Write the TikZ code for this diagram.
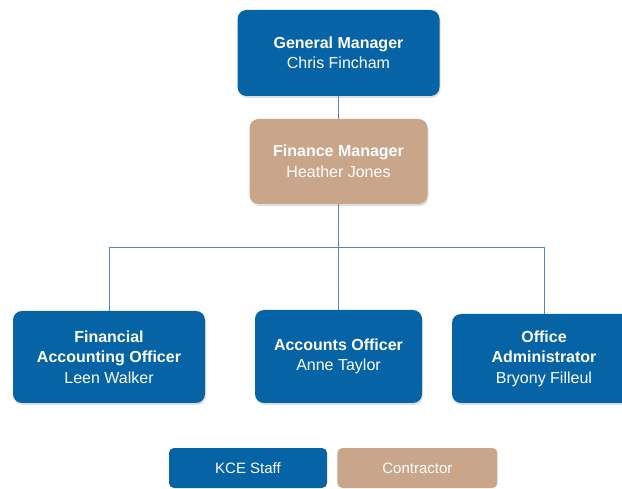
\documentclass[tikz,border=0pt]{standalone}
\usepackage{fontspec}
\setmainfont{Liberation Sans}
\usetikzlibrary{positioning,shadows}
\definecolor{kceblue}{RGB}{5,99,166}
\definecolor{contract}{RGB}{201,166,138}
\definecolor{linkblue}{RGB}{88,132,190}

\begin{document}
\begin{tikzpicture}[
                x=1pt,y=-1pt,
                box/.style n args={3}{draw=none,fill=#1,rounded corners=9pt,minimum width=#2,minimum height=#3,align=center,text=white,font=\fontsize{16}{20.5}\selectfont,drop shadow={opacity=0.25,shadow xshift=1pt,shadow yshift=-2pt}},
                key/.style n args={2}{draw=none,fill=#1,rounded corners=5pt,minimum width=#2,minimum height=40pt,align=center,text=white,font=\fontsize{15}{17}\selectfont},
                link/.style={draw=linkblue,line width=0.9pt}
            ]
                \clip (0,0) rectangle (622,489);
                \node (gm) [box={kceblue}{202pt}{86pt}] at (338.5,53) {\textbf{General Manager}\\Chris Fincham};
                \node (fm) [box={contract}{178pt}{85pt}] at (338.5,161.5) {\textbf{Finance Manager}\\Heather Jones};
                \node (fao) [box={kceblue}{192pt}{92pt}] at (109,357) {\textbf{Financial}\\\textbf{Accounting Officer}\\Leen Walker};
                \node (ao) [box={kceblue}{167pt}{93pt}] at (338.5,356.5) {\textbf{Accounts Officer}\\Anne Taylor};
                \node (oa) [box={kceblue}{184pt}{89pt}] at (544,358.5) {\textbf{Office}\\\textbf{Administrator}\\Bryony Filleul};
                \coordinate (bus) at (338.5,247);
                \draw[link] (gm) -- (fm);
                \draw[link] (fm) -- (bus);
                \draw[link] (bus) -| (fao);
                \draw[link] (bus) -- (ao);
                \draw[link] (bus) -| (oa);
                % legend
                \node (staff) [key={kceblue}{158pt}] at (248,468) {KCE Staff};
                \node (contr) [key={contract}{160pt},right=10pt of staff] {Contractor};
            \end{tikzpicture}
\end{document}
